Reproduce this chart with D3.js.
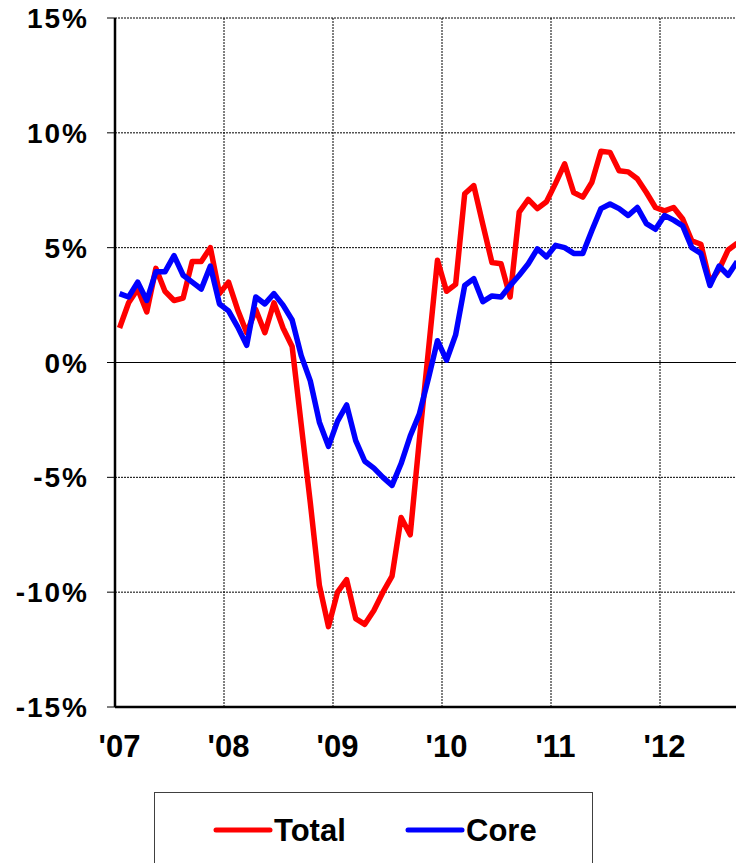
<!DOCTYPE html>
<html>
<head>
<meta charset="utf-8">
<script src="https://cdn.jsdelivr.net/npm/d3@7"></script>
<style>
  body { margin: 0; background: #fff; }
  svg { display: block; font-family: Arial, "Liberation Sans", sans-serif; font-weight: bold; }
</style>
</head>
<body>
<svg id="chart"></svg>
<script>
// monthly % change, Jan 2007 .. Sep 2012
const years = ["'07", "'08", "'09", "'10", "'11", "'12"];
const yTicks = [15, 10, 5, 0, -5, -10, -15];

const total = [
  1.5, 2.6, 3.2, 2.2, 4.1, 3.1, 2.7, 2.8, 4.4, 4.4, 5.0, 3.0,
  3.5, 2.3, 1.3, 2.3, 1.3, 2.6, 1.5, 0.7, -2.7, -6.1, -9.7, -11.5,
  -10.0, -9.45, -11.15, -11.4, -10.8, -10.0, -9.3, -6.75, -7.5, -3.4, 0.5, 4.45,
  3.1, 3.4, 7.35, 7.7, 6.0, 4.35, 4.3, 2.85, 6.55, 7.1, 6.7, 7.0,
  7.8, 8.65, 7.4, 7.2, 7.85, 9.2, 9.15, 8.35, 8.3, 8.0, 7.4, 6.75,
  6.6, 6.75, 6.25, 5.3, 5.15, 3.5, 4.05, 4.9, 5.2
];

const core = [
  3.0, 2.85, 3.5, 2.7, 3.95, 3.95, 4.65, 3.8, 3.5, 3.2, 4.2, 2.55,
  2.25, 1.55, 0.75, 2.85, 2.55, 3.0, 2.5, 1.85, 0.3, -0.8, -2.6, -3.65,
  -2.55, -1.85, -3.4, -4.3, -4.6, -5.0, -5.35, -4.4, -3.2, -2.25, -0.7, 0.95,
  0.1, 1.2, 3.35, 3.65, 2.65, 2.9, 2.85, 3.35, 3.8, 4.3, 4.95, 4.6,
  5.1, 5.0, 4.75, 4.75, 5.75, 6.7, 6.9, 6.7, 6.4, 6.75, 6.05, 5.8,
  6.4, 6.2, 5.95, 5.0, 4.75, 3.35, 4.2, 3.8, 4.4
];

const width = 736, height = 863;
const plotLeft = 115, plotTop = 18, plotBottom = 707;

const svg = d3.select("#chart").attr("width", width).attr("height", height);

// months since Jan 2007
const x = d3.scaleLinear().domain([0, 72]).range([plotLeft, plotLeft + 6 * 109]);
const y = d3.scaleLinear().domain([-15, 15]).range([plotBottom, plotTop]);

// horizontal grid
svg.append("g")
  .selectAll("line")
  .data(yTicks.filter(d => d !== 0 && d !== -15))
  .join("line")
  .attr("x1", plotLeft).attr("x2", width)
  .attr("y1", d => y(d)).attr("y2", d => y(d))
  .attr("stroke", "#000")
  .attr("stroke-width", 1)
  .attr("stroke-dasharray", "2,1");

// vertical grid at year starts
svg.append("g")
  .selectAll("line")
  .data(d3.range(1, 6))
  .join("line")
  .attr("x1", d => x(d * 12)).attr("x2", d => x(d * 12))
  .attr("y1", plotTop).attr("y2", plotBottom)
  .attr("stroke", "#000")
  .attr("stroke-width", 1)
  .attr("stroke-dasharray", "2,1");

// zero line
svg.append("line")
  .attr("x1", plotLeft).attr("x2", width)
  .attr("y1", y(0)).attr("y2", y(0))
  .attr("stroke", "#000")
  .attr("stroke-width", 1.2);

// y axis
const yAxis = svg.append("g").attr("transform", `translate(${plotLeft},0)`);
yAxis.append("line")
  .attr("x1", 0).attr("x2", 0)
  .attr("y1", y(15)).attr("y2", y(-15))
  .attr("stroke", "#000").attr("stroke-width", 2.5);
yAxis.selectAll(".tick")
  .data(yTicks)
  .join("line")
  .attr("x1", -8).attr("x2", 0)
  .attr("y1", d => y(d)).attr("y2", d => y(d))
  .attr("stroke", "#000").attr("stroke-width", 1);
yAxis.selectAll("text")
  .data(yTicks)
  .join("text")
  .attr("x", -26)
  .attr("y", d => y(d) + 10)
  .attr("text-anchor", "end")
  .attr("font-size", 28)
  .attr("letter-spacing", 2)
  .text(d => d + "%");

// x axis
svg.append("line")
  .attr("x1", plotLeft).attr("x2", width)
  .attr("y1", plotBottom).attr("y2", plotBottom)
  .attr("stroke", "#000").attr("stroke-width", 2.5);
svg.append("g")
  .selectAll("text")
  .data(years)
  .join("text")
  .attr("x", (d, i) => x(i * 12 + 0.5))
  .attr("y", 757)
  .attr("text-anchor", "middle")
  .attr("font-size", 31)
  .text(d => d);

// lines
const line = d3.line()
  .x((d, i) => x(i + 0.5))
  .y(d => y(d));

svg.append("path")
  .datum(total)
  .attr("d", line)
  .attr("fill", "none")
  .attr("stroke", "#ff0000")
  .attr("stroke-width", 5.5)
  .attr("stroke-linejoin", "round");

svg.append("path")
  .datum(core)
  .attr("d", line)
  .attr("fill", "none")
  .attr("stroke", "#0000ff")
  .attr("stroke-width", 5.5)
  .attr("stroke-linejoin", "round");

// legend
const legend = svg.append("g");
legend.append("rect")
  .attr("x", 154.5).attr("y", 792.5)
  .attr("width", 438).attr("height", 100)
  .attr("fill", "#fff")
  .attr("stroke", "#404040").attr("stroke-width", 1);

const items = [
  { name: "Total", color: "#ff0000", x: 216 },
  { name: "Core", color: "#0000ff", x: 408 }
];
const li = legend.selectAll(".item")
  .data(items)
  .join("g")
  .attr("transform", d => `translate(${d.x},830)`);
li.append("line")
  .attr("x1", 0).attr("x2", 54)
  .attr("stroke", d => d.color)
  .attr("stroke-width", 5)
  .attr("stroke-linecap", "round");
li.append("text")
  .attr("x", 58)
  .attr("y", 11)
  .attr("font-size", 31)
  .text(d => d.name);
</script>
</body>
</html>
